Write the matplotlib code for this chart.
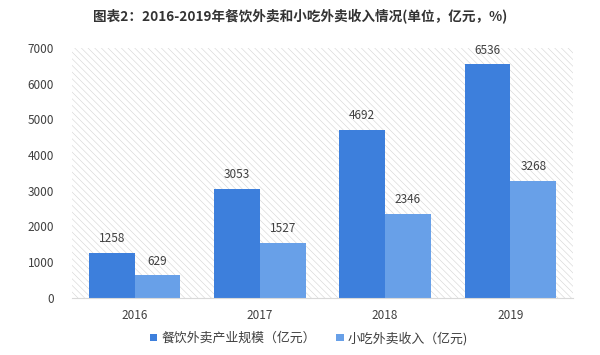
import numpy as np
import matplotlib
matplotlib.use("Agg")
import matplotlib.pyplot as plt
from matplotlib.patches import Rectangle

plt.rcParams['font.family'] = ['Noto Sans CJK SC', 'DejaVu Sans']
plt.rcParams['hatch.linewidth'] = 0.4
plt.rcParams['hatch.color'] = '#d4d4d4'

years = ['2016', '2017', '2018', '2019']
scale = [1258, 3053, 4692, 6536]
snack = [629, 1527, 2346, 3268]
series_names = ['餐饮外卖产业规模（亿元）', '小吃外卖收入（亿元)']

dark = '#3d7fdc'
light = '#68a0e8'
txt = '#404040'

fig = plt.figure(figsize=(6, 3.55), dpi=100)
ax = fig.add_axes([0.12, 0.161, 0.835, 0.704])

# hatched background
bg = Rectangle((0, 0), 1, 1, transform=ax.transAxes, facecolor='white',
               edgecolor='#d4d4d4', hatch='\\\\\\\\\\', linewidth=0, zorder=0)
ax.add_patch(bg)

x = np.arange(len(years))
w = 0.365
b1 = ax.bar(x - w/2, scale, w, color=dark, label=series_names[0], zorder=2)
b2 = ax.bar(x + w/2, snack, w, color=light, label=series_names[1], zorder=2)

for rect, v in zip(b1, scale):
    ax.text(rect.get_x() + rect.get_width()/2, v + 220, str(v),
            ha='center', va='bottom', fontsize=8.5, color=txt)
for rect, v in zip(b2, snack):
    ax.text(rect.get_x() + rect.get_width()/2, v + 220, str(v),
            ha='center', va='bottom', fontsize=8.5, color=txt)

ax.set_xlim(-0.5, 3.5)
ax.set_ylim(0, 7000)
ax.set_yticks(range(0, 7001, 1000))
ax.set_xticks(x)
ax.set_xticklabels(years)
ax.tick_params(length=0, labelsize=8.5, colors=txt, pad=8)
ax.tick_params(axis='y', pad=13)
for s in ['top', 'right', 'left']:
    ax.spines[s].set_visible(False)
ax.spines['bottom'].set_color('#d9d9d9')
ax.spines['bottom'].set_linewidth(0.8)

fig.text(0.5, 0.952, '图表2：2016-2019年餐饮外卖和小吃外卖收入情况(单位，亿元，%)',
         ha='center', va='center', fontsize=9.8, fontweight='bold', color='#333333')

leg = fig.legend(handles=[b1, b2], loc='center', bbox_to_anchor=(0.515, 0.047),
                 ncol=2, frameon=False, fontsize=9.3, handlelength=0.55,
                 handleheight=0.55, handletextpad=0.3, columnspacing=1.6)
for t in leg.get_texts():
    t.set_color(txt)

fig.savefig('out.png', dpi=100)
